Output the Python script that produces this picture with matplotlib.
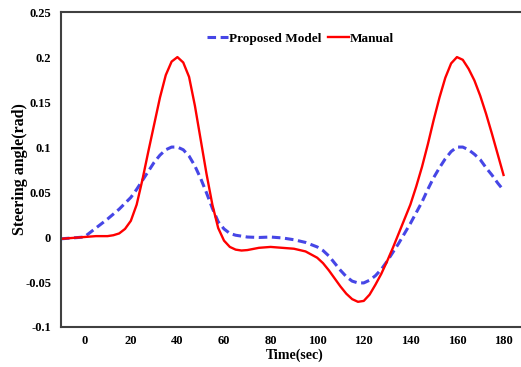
import matplotlib
matplotlib.use("Agg")
import matplotlib.pyplot as plt

time_manual = [-10, -5, 0, 5, 10, 12.5, 15, 17.5, 20, 22.5, 25, 27.5, 30, 32.5, 35, 37.5, 40,
               42.5, 45, 47.5, 50, 52.5, 55, 57.5, 60, 62.5, 65, 67.5, 70, 75, 80, 85, 90, 95,
               100, 102.5, 105, 107.5, 110, 112.5, 115, 117.5, 120, 122.5, 125, 127.5, 130,
               132.5, 135, 137.5, 140, 142.5, 145, 147.5, 150, 152.5, 155, 157.5, 160, 162.5,
               165, 167.5, 170, 172.5, 175, 177.5, 180]
manual = [-0.002, -0.001, 0.0, 0.001, 0.001, 0.002, 0.004, 0.009, 0.018, 0.036, 0.064, 0.095,
          0.125, 0.155, 0.18, 0.195, 0.2, 0.194, 0.178, 0.146, 0.108, 0.07, 0.036, 0.01,
          -0.004, -0.011, -0.014, -0.015, -0.0145, -0.012, -0.011, -0.012, -0.013, -0.016,
          -0.023, -0.029, -0.037, -0.046, -0.055, -0.063, -0.069, -0.072, -0.071, -0.064,
          -0.053, -0.041, -0.027, -0.012, 0.004, 0.02, 0.036, 0.056, 0.078, 0.103, 0.13,
          0.155, 0.177, 0.193, 0.2, 0.197, 0.187, 0.174, 0.157, 0.137, 0.115, 0.092, 0.069]

time_model = [-10, -5, 0, 5, 10, 15, 20, 22.5, 25, 27.5, 30, 32.5, 35, 37.5, 40, 42.5, 45,
              47.5, 50, 52.5, 55, 57.5, 60, 62.5, 65, 70, 75, 80, 85, 90, 95, 100, 102.5, 105,
              107.5, 110, 112.5, 115, 117.5, 120, 122.5, 125, 127.5, 130, 132.5, 135, 137.5,
              140, 142.5, 145, 147.5, 150, 152.5, 155, 157.5, 160, 162.5, 165, 167.5, 170,
              172.5, 175, 177.5, 180]
model = [-0.002, -0.001, 0.0, 0.01, 0.02, 0.031, 0.044, 0.053, 0.063, 0.073, 0.083, 0.091,
         0.097, 0.1, 0.1, 0.097, 0.09, 0.079, 0.065, 0.049, 0.032, 0.017, 0.009, 0.004, 0.002,
         0.0, -0.0005, 0.0, -0.001, -0.003, -0.006, -0.011, -0.015, -0.021, -0.029, -0.037,
         -0.044, -0.049, -0.051, -0.051, -0.048, -0.043, -0.036, -0.027, -0.017, -0.007,
         0.004, 0.015, 0.027, 0.039, 0.053, 0.066, 0.077, 0.087, 0.095, 0.1, 0.1, 0.097,
         0.092, 0.086, 0.077, 0.069, 0.06, 0.052]

x_ticks = [0, 20, 40, 60, 80, 100, 120, 140, 160, 180]
y_ticks = [-0.1, -0.05, 0, 0.05, 0.1, 0.15, 0.2, 0.25]
y_tick_labels = ["-0.1", "-0.05", "0", "0.05", "0.1", "0.15", "0.2", "0.25"]

plt.rcParams['font.family'] = ['Liberation Serif', 'DejaVu Serif']
plt.rcParams['font.weight'] = 'bold'

fig = plt.figure(figsize=(5.21, 3.67), dpi=100)
ax = fig.add_axes([0.117, 0.109, 0.883, 0.858])

ax.plot(time_model, model, color='#4646E6', lw=2.2, linestyle=(0, (2.8, 1.5)), label='Proposed Model')
ax.plot(time_manual, manual, color='#FF0000', lw=1.7, label='Manual')

ax.set_xlim(-10, 187.5)
ax.set_ylim(-0.1, 0.25)
ax.set_xticks(x_ticks)
ax.set_xticklabels([str(v) for v in x_ticks], fontsize=9, fontweight='bold')
ax.set_yticks(y_ticks)
ax.set_yticklabels(y_tick_labels, fontsize=9, fontweight='bold')
ax.tick_params(axis='x', length=0, pad=6)
ax.tick_params(axis='y', length=0, pad=7)

for s in ['left', 'bottom', 'top']:
    ax.spines[s].set_color('#404040')
    ax.spines[s].set_linewidth(1.5)
ax.spines['right'].set_visible(False)

ax.set_xlabel('Time(sec)', fontsize=10, fontweight='bold')
ax.xaxis.set_label_coords(0.507, -0.067)
ax.set_ylabel('Steering angle(rad)', fontsize=11.5, fontweight='bold')
ax.yaxis.set_label_coords(-0.072, 0.5)

ax.legend(loc='center', bbox_to_anchor=(0.52, 0.915), ncol=2, frameon=False,
          prop={'family': 'Liberation Serif', 'weight': 'bold', 'size': 9.5},
          handlelength=1.6, handletextpad=0.05, columnspacing=0.5, borderpad=0)

fig.savefig('out.png', dpi=100)
